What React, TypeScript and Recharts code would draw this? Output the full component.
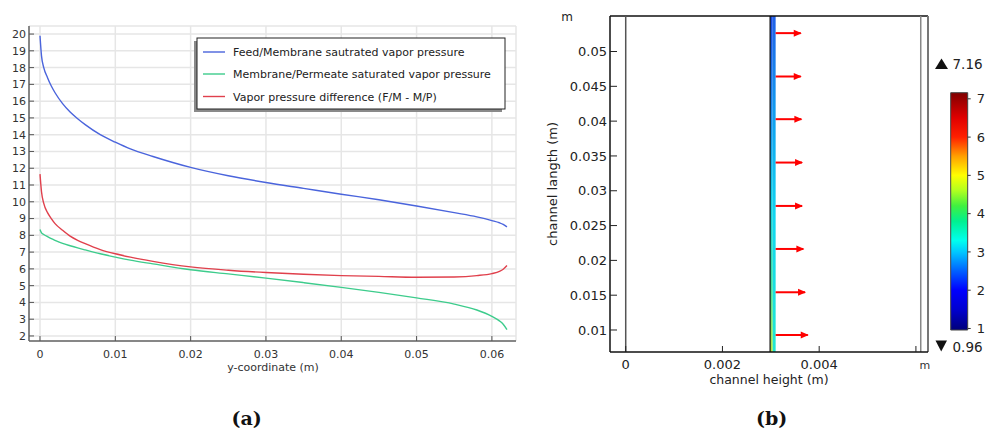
import React from 'react'
import {
  LineChart,
  Line,
  XAxis,
  YAxis,
  CartesianGrid,
  ComposedChart,
  Scatter,
  ReferenceArea,
  ReferenceLine,
} from 'recharts'

// (a) vapor pressure along the channel
const yCoord = [
  0, 0.0002, 0.0005, 0.001, 0.0015, 0.002, 0.003, 0.004, 0.005, 0.006, 0.008, 0.01, 0.012,
  0.015, 0.02, 0.025, 0.03, 0.035, 0.04, 0.045, 0.05, 0.055, 0.058, 0.06, 0.061, 0.0615, 0.062,
]
const feedMembrane = [
  19.9, 18.7, 18.0, 17.4, 16.9, 16.5, 15.85, 15.35, 14.95, 14.6, 14.0, 13.55, 13.15,
  12.7, 12.05, 11.55, 11.15, 10.8, 10.45, 10.12, 9.75, 9.35, 9.1, 8.88, 8.75, 8.65, 8.5,
]
const membranePermeate = [
  8.35, 8.15, 8.05, 7.92, 7.8, 7.7, 7.52, 7.38, 7.25, 7.13, 6.9, 6.7, 6.52,
  6.3, 5.95, 5.7, 5.45, 5.18, 4.9, 4.6, 4.27, 3.9, 3.55, 3.17, 2.9, 2.7, 2.38,
]
const pressureDiff = [
  11.65, 10.6, 9.9, 9.35, 9.0, 8.7, 8.3, 7.95, 7.7, 7.5, 7.15, 6.9, 6.7,
  6.45, 6.12, 5.92, 5.78, 5.68, 5.6, 5.55, 5.5, 5.52, 5.6, 5.72, 5.85, 5.98, 6.2,
]
const pressureTicks = [2, 3, 4, 5, 6, 7, 8, 9, 10, 11, 12, 13, 14, 15, 16, 17, 18, 19, 20]
const coordTicks = [0, 0.01, 0.02, 0.03, 0.04, 0.05, 0.06]
const seriesNames = [
  'Feed/Membrane sautrated vapor pressure',
  'Membrane/Permeate saturated vapor pressure',
  'Vapor pressure difference (F/M - M/P)',
]

// (b) channel cross-section with flux arrows
const lengthTicks = [0.01, 0.015, 0.02, 0.025, 0.03, 0.035, 0.04, 0.045, 0.05]
const heightTicks = [0, 0.002, 0.004, 0.006]
const channelEdges = [0, 0.0061]
const membraneEdges = [0.002985, 0.00304, 0.0031]
const arrowY = [0.05264, 0.04641, 0.04028, 0.03405, 0.02782, 0.02164, 0.01542, 0.00928]
const arrowEnd = [0.003619, 0.003619, 0.003632, 0.003646, 0.003646, 0.003673, 0.003708, 0.003764]
const colorRange = [0.96, 7.16]
const colorTicks = [1, 2, 3, 4, 5, 6, 7]

const blue = '#4a64dc'
const green = '#3dcc8c'
const red = '#e0404c'
const seriesColors = [blue, green, red]

const profileData = yCoord.map((x, i) => ({
  x,
  feed: feedMembrane[i],
  perm: membranePermeate[i],
  diff: pressureDiff[i],
}))
const arrowHeads = arrowY.map((y, i) => ({ x: arrowEnd[i], y }))
const colorData = colorRange.map((v) => ({ x: 0.5, v }))

const fmtCoord = (v: number) => (v === 0 ? '0' : v.toFixed(2))
const fmtLen = (v: number) => String(Number(v.toFixed(3)))

const rainbow = [
  [0, '#00007a'],
  [0.087, '#0000d0'],
  [0.168, '#0000ff'],
  [0.248, '#0060ff'],
  [0.329, '#00c8ff'],
  [0.377, '#00ffee'],
  [0.458, '#00f090'],
  [0.523, '#40f040'],
  [0.587, '#b0ff20'],
  [0.652, '#ffff00'],
  [0.732, '#ffa000'],
  [0.813, '#ff2000'],
  [0.894, '#e00000'],
  [1, '#800000'],
] as const

function HeightTick(props: any) {
  const { x, y, payload } = props
  if (payload.value === 0.006) {
    return (
      <text x={x + 9} y={y + 9} textAnchor="middle" fontSize={11} fill="#333">
        m
      </text>
    )
  }
  return (
    <text x={x} y={y + 8.5} textAnchor="middle" fontSize={13} fill="#222">
      {payload.value === 0 ? '0' : String(payload.value)}
    </text>
  )
}

function ArrowHead(props: any) {
  const { cx, cy } = props
  return <path d={`M${cx + 1},${cy} L${cx - 7},${cy - 3.5} L${cx - 7},${cy + 3.5} Z`} fill="#ff0000" />
}

const NoMark = () => <g />

function PanelA() {
  const axisLine = { stroke: '#666', strokeWidth: 1.5 }
  const tickLine = { stroke: '#555' }
  return (
    <LineChart width={530} height={380} data={profileData} margin={{ top: 26, right: 14, bottom: 9, left: 4 }}>
      <CartesianGrid stroke="#e6e6e6" strokeWidth={1.5} />
      <XAxis
        dataKey="x"
        type="number"
        domain={[-0.00146, 0.0632]}
        ticks={coordTicks}
        allowDataOverflow
        interval={0}
        height={30}
        tickSize={-5}
        tickMargin={14}
        tickFormatter={fmtCoord}
        tick={{ fontSize: 11, fill: '#333' }}
        axisLine={axisLine}
        tickLine={tickLine}
      />
      <XAxis
        xAxisId="top"
        orientation="top"
        dataKey="x"
        type="number"
        domain={[-0.00146, 0.0632]}
        ticks={coordTicks}
        allowDataOverflow
        height={0}
        tick={false}
        tickSize={-5}
        axisLine={axisLine}
        tickLine={tickLine}
      />
      <YAxis
        type="number"
        domain={[1.7, 20.48]}
        ticks={pressureTicks}
        allowDataOverflow
        interval={0}
        width={25}
        tickSize={-5}
        tickMargin={8}
        tick={{ fontSize: 11, fill: '#333' }}
        axisLine={axisLine}
        tickLine={tickLine}
      />
      <YAxis
        yAxisId="right"
        orientation="right"
        type="number"
        domain={[1.7, 20.48]}
        ticks={pressureTicks}
        allowDataOverflow
        width={0}
        tick={false}
        tickSize={-5}
        axisLine={axisLine}
        tickLine={tickLine}
      />
      <Line type="monotone" dataKey="feed" stroke={blue} strokeWidth={1.4} dot={false} isAnimationActive={false} />
      <Line type="monotone" dataKey="perm" stroke={green} strokeWidth={1.4} dot={false} isAnimationActive={false} />
      <Line type="monotone" dataKey="diff" stroke={red} strokeWidth={1.4} dot={false} isAnimationActive={false} />
    </LineChart>
  )
}

function PanelB() {
  const frame = { stroke: '#111', strokeWidth: 1.5 }
  const tickLine = { stroke: '#222' }
  const xDom: [number, number] = [-0.000325, 0.00625]
  const yDom: [number, number] = [0.00684, 0.0551]
  return (
    <ComposedChart
      width={420}
      height={400}
      data={arrowHeads}
      margin={{ top: 16, right: 12, bottom: 18, left: 30 }}
    >
      <defs>
        <linearGradient id="memA" x1="0" y1="0" x2="0" y2="1">
          <stop offset="0" stopColor="#1a48e0" />
          <stop offset="0.3" stopColor="#1890f0" />
          <stop offset="0.55" stopColor="#10d0e8" />
          <stop offset="0.8" stopColor="#40e0a0" />
          <stop offset="1" stopColor="#b8e840" />
        </linearGradient>
        <linearGradient id="memB" x1="0" y1="0" x2="0" y2="1">
          <stop offset="0" stopColor="#2060e8" />
          <stop offset="0.3" stopColor="#10a0f0" />
          <stop offset="0.6" stopColor="#10d8f0" />
          <stop offset="1" stopColor="#20e8d0" />
        </linearGradient>
      </defs>
      <XAxis
        dataKey="x"
        type="number"
        domain={xDom}
        ticks={heightTicks}
        allowDataOverflow
        interval={0}
        height={30}
        tickSize={-6}
        tickMargin={14}
        tick={<HeightTick />}
        axisLine={frame}
        tickLine={tickLine}
      />
      <XAxis
        xAxisId="top"
        orientation="top"
        dataKey="x"
        type="number"
        domain={xDom}
        ticks={heightTicks}
        allowDataOverflow
        height={0}
        tick={false}
        tickSize={-6}
        axisLine={frame}
        tickLine={tickLine}
      />
      <YAxis
        dataKey="y"
        type="number"
        domain={yDom}
        ticks={lengthTicks}
        allowDataOverflow
        interval={0}
        width={60}
        tickSize={-7}
        tickMargin={10}
        tickFormatter={fmtLen}
        tick={{ fontSize: 13, fill: '#222' }}
        axisLine={frame}
        tickLine={tickLine}
      />
      <YAxis
        yAxisId="right"
        orientation="right"
        dataKey="y"
        type="number"
        domain={yDom}
        ticks={lengthTicks}
        allowDataOverflow
        width={0}
        tick={false}
        tickSize={-8}
        axisLine={{ stroke: '#777', strokeWidth: 2 }}
        tickLine={tickLine}
      />
      <ReferenceLine y={yDom[1]} stroke="#111" strokeWidth={1.5} ifOverflow="visible" />
      <ReferenceLine x={xDom[1]} stroke="#777" strokeWidth={2} ifOverflow="visible" />
      <ReferenceLine x={channelEdges[0]} stroke="#555" strokeWidth={1.5} />
      <ReferenceLine x={channelEdges[1]} stroke="#888" strokeWidth={1.5} />
      <ReferenceArea x1={membraneEdges[0]} x2={membraneEdges[1]} fill="url(#memA)" fillOpacity={1} />
      <ReferenceArea x1={membraneEdges[1]} x2={membraneEdges[2]} fill="url(#memB)" fillOpacity={1} />
      <ReferenceLine x={membraneEdges[0]} stroke="#111" strokeWidth={1.2} />
      {arrowY.map((y, i) => (
        <ReferenceLine
          key={i}
          segment={[
            { x: membraneEdges[2], y },
            { x: arrowEnd[i], y },
          ]}
          stroke="#ff0000"
          strokeWidth={2}
        />
      ))}
      <Scatter data={arrowHeads} dataKey="y" shape={ArrowHead} isAnimationActive={false} />
      <Scatter
        data={arrowHeads}
        dataKey="y"
        xAxisId="top"
        yAxisId="right"
        shape={NoMark}
        isAnimationActive={false}
      />
    </ComposedChart>
  )
}

function ColorBar() {
  return (
    <ComposedChart
      width={46}
      height={270}
      data={colorData}
      margin={{ top: 12.7, right: 0, bottom: 20, left: 10.7 }}
    >
      <defs>
        <linearGradient id="rainbow" x1="0" y1="1" x2="0" y2="0">
          {rainbow.map(([o, c]) => (
            <stop key={o} offset={o} stopColor={c} />
          ))}
        </linearGradient>
      </defs>
      <XAxis dataKey="x" type="number" domain={[0, 1]} hide />
      <YAxis
        dataKey="v"
        orientation="right"
        type="number"
        domain={colorRange}
        ticks={colorTicks}
        interval={0}
        width={18.3}
        axisLine={false}
        tickSize={3}
        tickMargin={6}
        tick={{ fontSize: 13, fill: '#222', textAnchor: 'start' }}
        tickLine={{ stroke: '#333' }}
      />
      <ReferenceArea
        x1={0}
        x2={1}
        y1={colorRange[0]}
        y2={colorRange[1]}
        fill="url(#rainbow)"
        fillOpacity={1}
        stroke="#444"
        strokeWidth={1}
      />
    </ComposedChart>
  )
}

function Overlay() {
  const rows = [52, 74, 96.5]
  return (
    <svg width={986} height={432} style={{ position: 'absolute', left: 0, top: 0, pointerEvents: 'none' }}>
      {/* legend of (a) */}
      <rect x={194} y={41} width={308} height={71} fill="#8a8a8a" />
      <rect x={197} y={38} width={308} height={71} fill="#fff" stroke="#222" strokeWidth={1} />
      {seriesNames.map((name, i) => (
        <g key={name}>
          <line x1={203} x2={225} y1={rows[i]} y2={rows[i]} stroke={seriesColors[i]} strokeWidth={1.4} />
          <text x={233} y={rows[i] + 4} fontSize={11} fill="#222">
            {name}
          </text>
        </g>
      ))}
      <text x={273} y={371} textAnchor="middle" fontSize={11} fill="#333">
        y-coordinate (m)
      </text>

      {/* (b) labels */}
      <text x={567} y={20.5} textAnchor="middle" fontSize={12} fill="#222">
        m
      </text>
      <text x={769} y={383.5} textAnchor="middle" fontSize={12.5} fill="#222">
        channel height (m)
      </text>
      <text x={556.5} y={184} textAnchor="middle" fontSize={13} fill="#222" transform="rotate(-90 556.5 184)">
        channel langth (m)
      </text>
      <path d="M935,69 L948,69 L941.5,58.5 Z" fill="#111" />
      <text x={952.5} y={69} fontSize={13.5} fill="#222">
        7.16
      </text>
      <path d="M935.5,340.5 L947,340.5 L941.2,351.5 Z" fill="#111" />
      <text x={952.5} y={351.5} fontSize={13.5} fill="#222">
        0.96
      </text>

      {/* captions */}
      <text x={246.7} y={425} textAnchor="middle" fontSize={19} fontWeight="bold" fill="#111" fontFamily="'DejaVu Serif', serif">
        (a)
      </text>
      <text x={771.7} y={425} textAnchor="middle" fontSize={19} fontWeight="bold" fill="#111" fontFamily="'DejaVu Serif', serif">
        (b)
      </text>
    </svg>
  )
}

export default function App() {
  return (
    <div
      style={{
        position: 'absolute',
        left: 0,
        top: 0,
        width: 986,
        height: 432,
        background: '#fff',
        fontFamily: "'DejaVu Sans', sans-serif",
        overflow: 'hidden',
      }}
    >
      <div style={{ position: 'absolute', left: 0, top: 0 }}>
        <PanelA />
      </div>
      <div style={{ position: 'absolute', left: 520, top: 0 }}>
        <PanelB />
      </div>
      <div style={{ position: 'absolute', left: 940, top: 80 }}>
        <ColorBar />
      </div>
      <Overlay />
    </div>
  )
}
